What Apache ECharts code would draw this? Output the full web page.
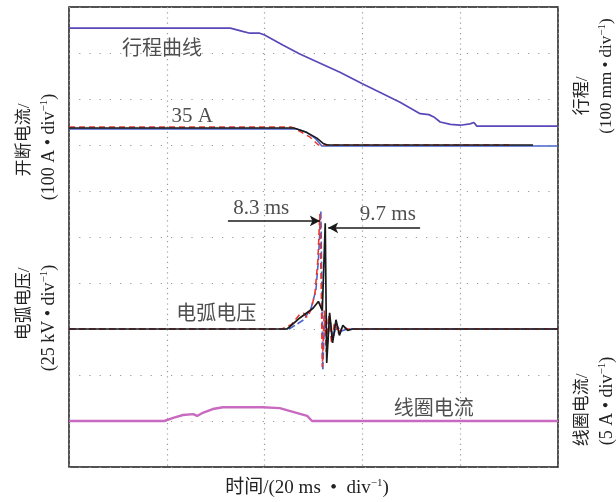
<!DOCTYPE html>
<html><head><meta charset="utf-8">
<script src="https://cdn.jsdelivr.net/npm/echarts@6/dist/echarts.min.js"></script>
<style>html,body{margin:0;padding:0;background:#fff}#c{width:616px;height:502px}</style>
</head><body><div id="c"></div>
<script>
// x in ms (20 ms/div), y in screen divisions (0..10)
const xRange = [0, 100];
const yRange = [0, 10];

const travel = [[0,9.54],[33,9.54],[35.5,9.47],[37,9.43],[39,9.43],[40,9.39],[43.8,9.17],[47.2,8.98],[55.4,8.58],[60,8.33],[67.7,7.93],[71.8,7.68],[73.6,7.66],[74.6,7.61],[75.9,7.50],[78,7.45],[80,7.43],[82,7.46],[82.8,7.49],[83.4,7.41],[100,7.41]];

const currentBlack = [[0,7.37],[46,7.37],[46.6,7.35],[48.7,7.27],[50.7,7.15],[51.9,7.04],[52.8,7.0],[94.9,7.0]];
const currentRed = [[0,7.39],[45.5,7.39],[47,7.31],[49.3,7.17],[50.5,7.05],[51,7.0],[90,7.0]];
const currentBlue = [[0,7.35],[46.5,7.35],[48.3,7.29],[50.3,7.15],[51.7,6.98],[100,6.98]];

const arcBlack = [[0,3.0],[44.6,3.0],[47.2,3.24],[49.9,3.45],[51.0,3.6],[51.8,3.4],[52.4,5.3],[52.7,2.26],[53.3,3.35],[53.9,2.7],[54.6,3.2],[55.3,2.86],[56,3.08],[57,2.97],[58,3.0],[100,3.0]];
const arcRed = [[0,3.0],[43.5,3.0],[45.5,3.1],[47.2,3.32],[48,3.34],[48.7,3.25],[49.5,3.42],[50.3,3.78],[50.9,4.5],[51.3,5.5],[51.6,3.8],[51.8,2.17],[52.2,3.4],[52.6,2.5],[53.1,3.3],[53.7,2.7],[54.3,3.15],[55,2.9],[56,3.05],[57,3.0],[100,3.0]];
const arcBlue = [[0,3.0],[45,3.0],[46.5,3.1],[48,3.2],[49.5,3.45],[50.5,3.85],[51.0,4.5],[51.5,5.57],[51.7,4.0],[51.9,2.1],[52.3,3.3],[52.8,2.6],[53.3,3.25],[54,2.8],[54.7,3.1],[55.5,2.95],[57,3.0],[100,3.0]];

const coil = [[0,1.0],[19.5,1.0],[21.3,1.07],[23.3,1.13],[25.4,1.15],[26.2,1.11],[27.2,1.17],[29.4,1.26],[31.5,1.30],[39.7,1.30],[43.1,1.28],[45.8,1.20],[48.7,1.11],[49.7,1.0],[100,1.0]];

const annoTexts = [
  {name:'行程曲线', value:[19.0,9.13], cjk:true},
  {name:'35 A', value:[25.2,7.61]},
  {name:'8.3 ms', value:[39.3,5.61]},
  {name:'9.7 ms', value:[65.2,5.48]},
  {name:'电弧电压', value:[30.1,3.37], cjk:true},
  {name:'线圈电流', value:[74.6,1.30], cjk:true}
];
const arrow83 = [[32.5,5.35],[51.3,5.35]];
const arrow97 = [[71.8,5.2],[53.0,5.2]];

const SERIF = "'Liberation Serif','Noto Sans CJK SC',serif";
const CJK = "'Noto Sans CJK SC',sans-serif";

const chart = echarts.init(document.getElementById('c'));
function ln(data, color, width, type, z){
  return {type:'line', data, showSymbol:false, symbol:'none', animation:false, z:z||2,
    lineStyle:{color, width, type:type||'solid'}};
}
const supStyle = {fontSize:11, fontFamily:SERIF, fill:'#222', verticalAlign:'top', padding:[0,0,9,0]};
function rt(text, x, y, size){
  return {type:'text', x, y, rotation:Math.PI/2, style:{text, fontSize:size, fontFamily:SERIF, fill:'#222', align:'center', verticalAlign:'middle', rich:{s:supStyle}}};
}
chart.setOption({
  animation:false,
  grid:{left:69, top:7, right:58, bottom:35, show:true, borderColor:'#1a1a1a', borderWidth:1.5},
  xAxis:{type:'value', min:xRange[0], max:xRange[1], interval:20,
    axisLine:{show:false}, axisTick:{show:false}, axisLabel:{show:false},
    splitLine:{show:true, lineStyle:{color:'#9a9a9a', width:1.2, type:[1.2,4]}}},
  yAxis:{type:'value', min:yRange[0], max:yRange[1], interval:1,
    axisLine:{show:false}, axisTick:{show:false}, axisLabel:{show:false},
    splitLine:{show:true, lineStyle:{color:'#9a9a9a', width:1.2, type:[1.2,9]}}},
  series:[
    ln(travel,'#5a48b8',1.7),
    ln(currentBlue,'#4a63d0',1.5,'solid',2),
    ln(currentRed,'#e8382e',1.5,[6,4],3),
    ln(currentBlack,'#1a1a1a',1.6,'solid',4),
    ln(arcBlue,'#4a63d0',1.6,[7,3],2),
    ln(arcRed,'#e8382e',1.6,[6,4],3),
    ln(arcBlack,'#1a1a1a',1.7,'solid',4),
    ln(coil,'#c86ac0',2.4),
    {type:'line', data:[], animation:false, markLine:{silent:true, animation:false, symbol:['none','arrow'], symbolSize:[8,10],
      lineStyle:{color:'#1a1a1a', width:1.6, type:'solid'}, label:{show:false},
      data:[[{coord:arrow83[0]},{coord:arrow83[1]}],[{coord:arrow97[0]},{coord:arrow97[1]}]]}},
    {type:'scatter', symbolSize:0, animation:false, z:10,
      data:annoTexts.map(d=>({name:d.name, value:d.value, label:{fontFamily:d.cjk?CJK:SERIF, fontSize:d.cjk?20:21}})),
      label:{show:true, position:'inside', formatter:'{b}', color:'#222'}}
  ],
  graphic:[
    {type:'text', x:307, y:488, style:{text:'时间/(20 ms  •  div{s|−1})', fontSize:19, fontFamily:SERIF, fill:'#222', align:'center', verticalAlign:'middle', rich:{s:supStyle}}},
    rt('开断电流/', 25, 140, 17),
    rt('(100 A • div{s|−1})', 49, 147, 18),
    rt('电弧电压/', 25, 304, 17),
    rt('(25 kV • div{s|−1})', 49, 318, 18),
    rt('行程/', 583, 96, 17),
    rt('(100 mm • div{s|−1})', 607, 76, 17),
    rt('线圈电流/', 583, 410, 17),
    rt('(5 A • div{s|−1})', 607, 401, 18)
  ]
});
</script></body></html>
